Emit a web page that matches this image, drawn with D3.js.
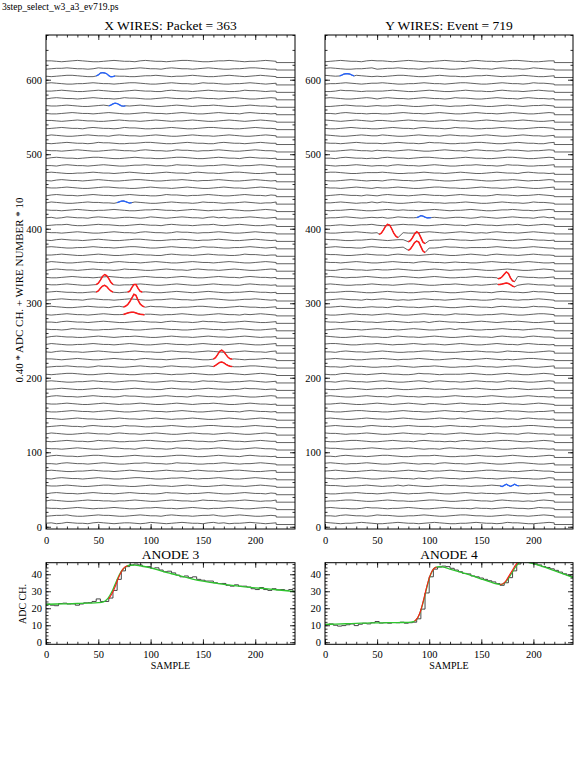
<!DOCTYPE html>
<html>
<head>
<meta charset="utf-8">
<script src="https://cdn.jsdelivr.net/npm/d3@7"></script>
<style>
body { margin: 0; background: #fff; }
svg { font-family: "Liberation Serif", "DejaVu Serif", serif; }
</style>
</head>
<body>
<script>

// wire traces: one digit per 5 samples (0..220), digit 4.5 = wire baseline
var xWires = [
	"453465443565434554346543456544356453445654345",
	"345564334565543345654435654434556434565433454",
	"544345654344565433455654434565434456543345654",
	"465433456554434456543345654434655434456543446",
	"356544345654434565443346554344565433456544354",
	"544565433456654433456544345654334565443456543",
	"435654434565433456654334556543445654334565434",
	"565433445654434565433456544356544345665433455",
	"443565443456543345565443465543344565434456543",
	"356544345665433456544334566543345654435654434",
	"544345654334565443565443465543445654334565443",
	"434565443465543344566543345654433565443456544",
	"465433456544356544345654334565443456543345654",
	"345654435654434655433445654334566544334565443",
	"554345654433456544345654344565433456543456543",
	"433456544345654334565443456543345654435654434",
	"544565433456543445654334565434556543345654434",
	"356544345654434655433456544356544345654334565",
	"445654334565433456544335654434565443346554344",
	"565433445654434566543345654434655433445654345",
	"434566543345654433455654344565433456543456543",
	"345565443465543345654435654434565433445665433",
	"554345654334565443565443456654334556543445654",
	"435654434565433456544335654434565433456544356",
	"465433445654434565433456544345654434565433456",
	"356544334565434556543345654434565443456543445",
	"544346554334456543345665443345654434565433456",
	"443565443456543345654435654434655434456543345",
	"434565443456544334655434456543345654435456543",
	"565433456544356544346554334456654334565443345",
	"345654435654434565433445654434566543345565434",
	"456544334556543445654334565434565433445654434",
	"544565433456543445654334565433456544335654434",
	"433456544345654334565443456543345654435654434",
	"356544345654434655433456544356544345654334565",
	"465433456544356544345654334565443456543345654",
	"445654334565433456544335654434565443346554344",
	"565433445654434566543345654434655433445654345",
	"435654434565433456654334556543445654334565434",
	"544345654334565443565443465543445654334565443",
	"345564334565543345654435654434556434565433454",
	"453465443565434554346543456544356453445654345",
	"544345654344565433455654434565434456543345654",
	"465433456554434456543345654434655434456543446",
	"356544345654434565443346554344565433456544354",
	"544565433456654433456544345654334565443456543",
	"435654434565433456654334556543445654334565434",
	"565433445654434565433456544356544345665433455",
	"443565443456543345565443465543344565434456543",
	"356544345665433456544334566543345654435654434",
	"544345654334565443565443465543445654334565443",
	"434565443465543344566543345654433565443456544",
	"465433456544356544345654334565443456543345654",
	"345654435654434655433445654334566544334565443",
	"554345654433456544345654344565433456543456543",
	"433456544345654334565443456543345654435654434",
	"544565433456543445654334565434556543345654434",
	"356544345654434655433456544356544345654334565",
	"445654334565433456544335654434565443346554344",
	"565433445654434566543345654434655433445654345",
	"434566543345654433455654344565433456543456543",
	"345565443465543345654435654434565433445665433",
	"554345654334565443565443456654334556543445654"
];

var yWires = [
	"654344565433456544345654334456544346554334565",
	"443565443465543344565433456654433456544345654",
	"565443346554344565433456544435443456544346554",
	"344566543345654433456654334565443565443435654",
	"433455654434565434456543345654544345654344565",
	"655434456543446465433456554434456543345654434",
	"543445654334565443543565443456544345654433465",
	"456543345654434565435445654334566544334565443",
	"565434456543345654344356544345654334566543345",
	"443565443456654334555654334456544345654334565",
	"655433445654344565434435654434565433455654434",
	"433456654334565443565443435654434566543345654",
	"655434456543345654435443456543345654435654434",
	"456544335654434565444345654434655433445665433",
	"565433456544345654334565446543345654435654434",
	"543345665443345654433456544356544346554334456",
	"445654334565434565435543456544334565443456543",
	"565433456544356544344334565443456543345654434",
	"433456543455654334565443454456543345654344565",
	"443565443456543345653565443456544346554334565",
	"433565443456544334655434444565433456543345654",
	"544346554334456543455654334456544345665433456",
	"456544334556543445654334565434565434345665433",
	"443565443456543344566543334556544346554334565",
	"566543345565434456545543456543345654435654434",
	"654334565443356544345654334565443565443565443",
	"345654434565443456543345646543344565443456543",
	"544345654434565434453565443345654345565433456",
	"433456544345654334565443465543344565433456654",
	"445654334544356544345654334565443565443465543",
	"345654435456543434565443456544334655434456543",
	"344566543345654433455654334565443565443465543",
	"565433445654434566543345565434345654435654434",
	"565434456543345654345654334456544344565443345",
	"433565443454456543345654344565433456543345654",
	"544345654334565443565443454433456544345654334",
	"655433456544356544345654334565435654434565443",
	"456544335654434565443346554344445654334565433",
	"655433445654345565433445654434566543345654434",
	"433455654344565433456543456543435654434565433",
	"334543455643345655433456544356544345564345654",
	"344565434545346544356543455434654345654435645",
	"434456543345654544345654344565433455654434565",
	"445654344646543345655443445654334565443465543",
	"345654435435654434565443456544334655434456543",
	"544345654354456543345665443345654434565433456",
	"433456543443565443456543345665433455654344565",
	"566543345556543344565443456543345654435654434",
	"543445654344356544345654334556544346554334456",
	"443565443435654434566543345654433456654334565",
	"433456544354434565433456544356544346554344565",
	"544345654443456544346554334456654334565443356",
	"654334565446543345654435654434565433456544345",
	"433456544334565443565443465543344565433456654",
	"654345654355434565443345654434565434456543345",
	"443565443443345654434565433456544345654334565",
	"334565443454456543345654344565433456543455654",
	"565433456535654434565443465543345654435654434",
	"334655434444565433456543345654433565443456544",
	"344565434556543344565443456654334565443465543",
	"654345654343456654334565443345565434456543345",
	"565433445634556544346554334565443565443465433",
	"345654435655434565433456544356544345665433455"
];

// hits drawn in colour: wire, first sample, values every 2 samples above the wire baseline
var xHits = [
	{ wire: 32, start: 48, color: "red", vals: [0, 2, 6, 11, 13.5, 12, 8, 3, 0] },
	{ wire: 31, start: 48, color: "red", vals: [0, 1.5, 5, 8, 9, 7.5, 4, 1.5, 0] },
	{ wire: 31, start: 78, color: "red", vals: [0, 1, 6, 10, 10, 5, 1, 0] },
	{ wire: 29, start: 74, color: "red", vals: [0, 1, 3, 7, 12, 17, 15.5, 9, 4, 1.5, 0] },
	{ wire: 28, start: 74, color: "red", vals: [0, 0.8, 1.8, 2.6, 3, 2.8, 2, 1, 0.3, 0, -0.5] },
	{ wire: 22, start: 160, color: "red", vals: [0, 2, 6, 10.5, 12, 10, 6, 2.5, 0.5, 0] },
	{ wire: 21, start: 160, color: "red", vals: [0, 1.5, 3.5, 5.5, 6, 5, 3, 1.5, 0.5, 0] },
	{ wire: 60, start: 48, color: "blue", vals: [0, 1.5, 4, 4.5, 4, 3, 0.5, -1, -0.8, 0] },
	{ wire: 56, start: 60, color: "blue", vals: [0, 1, 2.5, 3.5, 3, 1.5, 0, -0.5, 0] },
	{ wire: 43, start: 68, color: "blue", vals: [0, 1, 2, 2.2, 1.5, 0.3, -0.5, 0] }
];

var yHits = [
	{ wire: 39, start: 52, color: "red", vals: [-2.5, -1, 3, 8, 11, 10, 5, -1, -5, -7] },
	{ wire: 38, start: 80, color: "red", vals: [-2.5, -1, 3, 8, 11, 9, 3, -3, -5] },
	{ wire: 37, start: 80, color: "red", vals: [-4, -2, 2, 6.5, 8.5, 7, 1, -5, -7] },
	{ wire: 33, start: 166, color: "red", vals: [-2, -1.5, 0.5, 4, 7, 5, -1, -5, -6] },
	{ wire: 32, start: 166, color: "red", vals: [0, 0.3, 0.8, 1.5, 2, 1.5, 0, -2, -3] },
	{ wire: 60, start: 14, color: "blue", vals: [0, 1, 2.5, 3, 3, 2.5, 1, 0] },
	{ wire: 41, start: 88, color: "blue", vals: [0, 1, 2.5, 2, 0.5, -0.5, -0.3, 0] },
	{ wire: 5, start: 168, color: "blue", vals: [0, -1, 0.5, 2, 0.5, -0.8, 0.5, 2, 0.5, 0] }
];

// anode data, one value every 4 samples
var anode3Data = [22.5, 21.8, 21.5, 22.8, 23, 22.5, 22.6, 21.8, 22.5, 23.2, 23.3, 24, 25.5, 24, 24, 26,
	30.5, 37, 42, 44.5, 45.5, 46, 45.5, 44.5, 44.5, 43.5, 43.8, 42.5, 41.5, 41.8, 40.8, 39.5,
	38.5, 39, 38, 38.5, 37, 36.5, 36, 36, 35, 34.5, 34.6, 33.5, 33, 33.8, 33, 33, 32.5, 31.5,
	31, 32.2, 31, 30.5, 31.5, 30.8, 31, 30.5, 31, 30, 29.8];
var anode4Data = [10.5, 10.8, 10, 9.5, 9.8, 10.3, 10.8, 9.8, 10.6, 11.2, 10.8, 11.5, 12.2, 11.3, 11.5, 11.2,
	11.6, 11.5, 11.8, 11.2, 11.5, 11.8, 13.8, 19.5, 29, 38.5, 43, 44.2, 44.8, 44.5, 43.5, 42.5,
	41.5, 40.5, 40.2, 39, 38.5, 37.8, 37, 36.2, 35.5, 34.5, 33.5, 35, 38, 42, 46, 47.5, 47.5, 47,
	46.2, 45.5, 44.5, 44, 43.2, 42.3, 41.3, 40.3, 39.4, 38.6, 37.6];

// fitted pulse shapes [sample, ADC]
var anode3Fit = [[0, 22.3], [10, 22.5], [20, 22.6], [30, 22.8], [40, 23], [50, 23.3], [55, 23.8], [58, 25],
	[61, 27.5], [64, 31], [67, 35.5], [70, 39.5], [73, 42.5], [76, 44.3], [80, 45.3], [85, 45.4],
	[90, 45], [100, 43.8], [110, 42], [120, 40.3], [130, 38.8], [140, 37.2], [150, 35.9], [160, 35],
	[170, 34.1], [180, 33.3], [190, 32.6], [200, 32], [210, 31.5], [220, 30.9], [230, 30.3], [240, 29.6]];
var anode3Rise = [[60, 25.5], [63, 28.5], [66, 32.5], [69, 37.5], [72, 41.5], [75, 44], [78, 45]];

var anode4Fit = [[0, 10.5], [10, 10.7], [20, 10.9], [30, 11.1], [40, 11.3], [50, 11.4], [60, 11.5], [70, 11.6],
	[80, 11.7], [85, 12.2], [88, 13.5], [91, 17], [94, 23], [97, 30.5], [100, 37.5], [103, 42],
	[106, 44], [110, 44.5], [115, 44], [120, 43], [130, 41.2], [140, 39.3], [150, 37.2], [160, 35.2],
	[165, 34.3], [168, 33.9], [171, 34.4], [174, 36], [177, 38.5], [180, 41.5], [183, 44.5],
	[186, 46.5], [190, 47.4], [195, 47], [200, 46.2], [210, 44.3], [220, 42.1], [230, 39.9], [240, 37.6]];
var anode4Rise = [[[86, 12.5], [89, 14.5], [92, 19], [95, 26], [98, 33.5], [101, 39.5], [104, 43], [107, 44.2]],
	[[168, 34], [171, 34.5], [174, 36.5], [177, 39.5], [180, 42.5], [183, 45.5], [186, 47.5]]];

var sampleTicks = [0, 50, 100, 150, 200],
	sampleMinor = d3.range(0, 240, 10),
	wireTicks = [0, 100, 200, 300, 400, 500, 600],
	wireMinor = d3.range(0, 661, 20),
	adcTicks = [0, 10, 20, 30, 40],
	adcMinor = d3.range(0, 47, 2);

var BASE = 5, AMP = 0.6, TAIL = 3, LAST = 220;
var colors = { red: "#ff1a1a", blue: "#2563ff" };

var svg = d3.select("body").append("svg")
	.attr("width", 581)
	.attr("height", 783);

svg.append("text")
	.attr("x", 2).attr("y", 10)
	.style("font-size", "9.6px")
	.text("3step_select_w3_a3_ev719.ps");

function frame(x, y, xt, xm, yt, ym, pad) {
	var xr = x.range(), yr = y.range();
	var sets = [
		[d3.axisBottom(x).tickValues(xt).tickSize(-5).tickPadding(pad), 0, yr[0]],
		[d3.axisBottom(x).tickValues(xm).tickSize(-2.5).tickFormat(""), 0, yr[0]],
		[d3.axisTop(x).tickValues(xt).tickSize(-5).tickFormat(""), 0, yr[1]],
		[d3.axisTop(x).tickValues(xm).tickSize(-2.5).tickFormat(""), 0, yr[1]],
		[d3.axisLeft(y).tickValues(yt).tickSize(-5).tickPadding(4), xr[0], 0],
		[d3.axisLeft(y).tickValues(ym).tickSize(-2.5).tickFormat(""), xr[0], 0],
		[d3.axisRight(y).tickValues(yt).tickSize(-5).tickFormat(""), xr[1], 0],
		[d3.axisRight(y).tickValues(ym).tickSize(-2.5).tickFormat(""), xr[1], 0]
	];
	sets.forEach(function(s) {
		var g = svg.append("g")
			.attr("transform", "translate(" + s[1] + "," + s[2] + ")")
			.call(s[0]);
		g.attr("font-family", null).attr("font-size", null);
		g.select(".domain").remove();
		g.selectAll("line").attr("stroke", "#000").attr("stroke-width", 0.8);
		g.selectAll("text").style("font-size", "10.5px").attr("fill", "#000");
	});
	svg.append("rect")
		.attr("x", xr[0]).attr("y", yr[1])
		.attr("width", xr[1] - xr[0])
		.attr("height", yr[0] - yr[1])
		.attr("fill", "none")
		.attr("stroke", "#000")
		.attr("stroke-width", 1);
}

function wirePanel(x0, x1, title, traces, hits) {
	var x = d3.scaleLinear().domain([0, 238]).range([x0, x1]);
	var y = d3.scaleLinear().domain([-3, 660]).range([529, 35]);
	var line = d3.line().x(function(d) { return x(d[0]); }).y(function(d) { return y(d[1]); });
	var g = svg.append("g");

	traces.forEach(function(str, k) {
		var n = str.length, step = LAST / (n - 1);
		var pts = str.split("").map(function(c, i) {
			return [i * step, 10 * k + BASE + (+c - 4.5) * AMP];
		});
		hits.filter(function(h) { return h.wire === k; }).forEach(function(h) {
			var end = h.start + 2 * (h.vals.length - 1);
			pts = pts.filter(function(p) { return p[0] < h.start || p[0] > end; });
			h.vals.forEach(function(v, j) { pts.push([h.start + 2 * j, 10 * k + BASE + v]); });
		});
		pts.sort(function(a, b) { return a[0] - b[0]; });
		pts.push([LAST, 10 * k + TAIL]);
		pts.push([238, 10 * k + TAIL]);
		g.append("path")
			.attr("d", line(pts))
			.attr("fill", "none")
			.attr("stroke", "#3a3a3a")
			.attr("stroke-width", 0.8);
	});

	hits.forEach(function(h) {
		var pts = h.vals.map(function(v, j) { return [h.start + 2 * j, 10 * h.wire + BASE + v]; });
		g.append("path")
			.attr("d", line(pts))
			.attr("fill", "none")
			.attr("stroke", colors[h.color])
			.attr("stroke-width", h.color === "red" ? 1.5 : 1.3);
	});

	frame(x, y, sampleTicks, sampleMinor, wireTicks, wireMinor, 8);

	svg.append("text")
		.attr("x", (x0 + x1) / 2).attr("y", 29.5)
		.attr("text-anchor", "middle")
		.style("font-size", "13.5px")
		.text(title);
}

function anodePanel(x0, x1, title, id, data, fit, rises) {
	var x = d3.scaleLinear().domain([0, 238]).range([x0, x1]);
	var y = d3.scaleLinear().domain([-1.2, 46.8]).range([644.3, 562.7]);
	svg.append("clipPath").attr("id", id)
		.append("rect")
		.attr("x", x0).attr("y", 562.7)
		.attr("width", x1 - x0).attr("height", 644.3 - 562.7);
	var g = svg.append("g").attr("clip-path", "url(#" + id + ")");

	var step = d3.line()
		.x(function(d, i) { return x(i * 4); })
		.y(function(d) { return y(d); })
		.curve(d3.curveStepAfter);
	var smooth = d3.line()
		.x(function(d) { return x(d[0]); })
		.y(function(d) { return y(d[1]); })
		.curve(d3.curveMonotoneX);

	g.append("path").attr("d", step(data))
		.attr("fill", "none").attr("stroke", "#333").attr("stroke-width", 0.9);
	g.append("path").attr("d", smooth(fit))
		.attr("fill", "none").attr("stroke", "#2ec42e").attr("stroke-width", 1.3);
	rises.forEach(function(r) {
		g.append("path").attr("d", smooth(r))
			.attr("fill", "none").attr("stroke", colors.red).attr("stroke-width", 1.1);
	});

	frame(x, y, sampleTicks, sampleMinor, adcTicks, adcMinor, 6);

	svg.append("text")
		.attr("x", (x0 + x1) / 2).attr("y", 558.5)
		.attr("text-anchor", "middle")
		.style("font-size", "13.5px")
		.text(title);
	svg.append("text")
		.attr("x", (x0 + x1) / 2).attr("y", 668.5)
		.attr("text-anchor", "middle")
		.style("font-size", "10px")
		.text("SAMPLE");
}

wirePanel(46, 295, "X WIRES: Packet = 363", xWires, xHits);
wirePanel(325, 573, "Y WIRES: Event = 719", yWires, yHits);
anodePanel(46, 295, "ANODE 3", "clipA3", anode3Data, anode3Fit, [anode3Rise]);
anodePanel(325, 573, "ANODE 4", "clipA4", anode4Data, anode4Fit, anode4Rise);

svg.append("text")
	.attr("transform", "translate(23,290) rotate(-90)")
	.attr("text-anchor", "middle")
	.style("font-size", "11px")
	.text("0.40 * ADC CH. + WIRE NUMBER * 10");
svg.append("text")
	.attr("transform", "translate(26,604) rotate(-90)")
	.attr("text-anchor", "middle")
	.style("font-size", "10px")
	.text("ADC CH.");

</script>
</body>
</html>
